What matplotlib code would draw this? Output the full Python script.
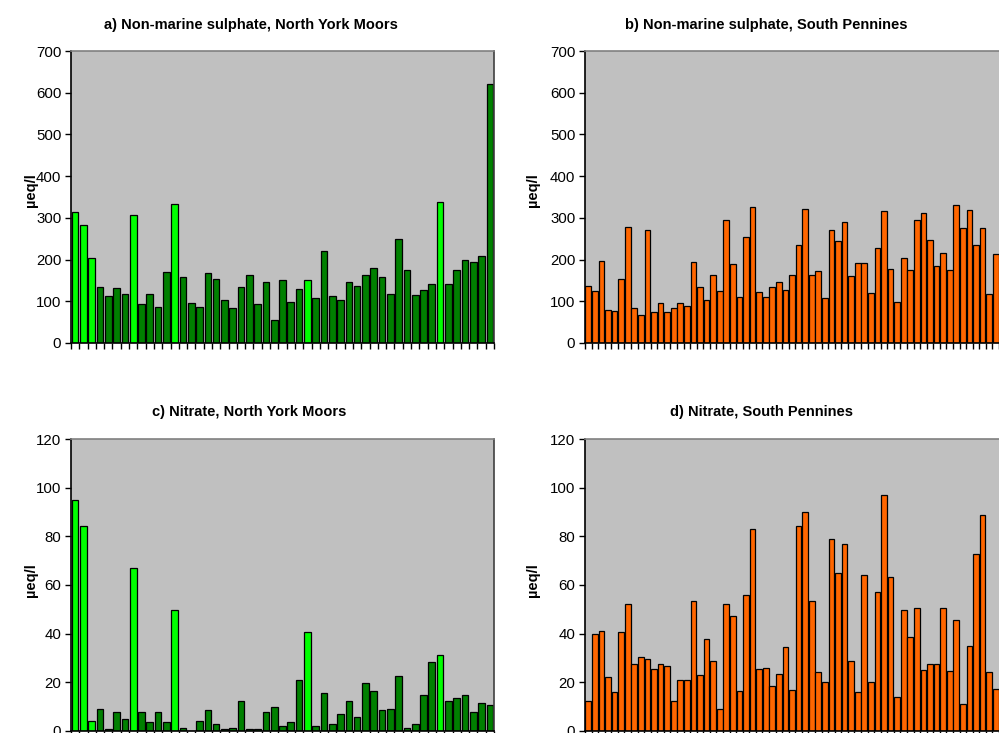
import numpy as np
import matplotlib
matplotlib.use('Agg')
import matplotlib.pyplot as plt

plt.rcParams['font.family'] = ['Liberation Sans', 'DejaVu Sans']

# sites with the bright green bars (North York Moors)
HIGHLIGHT = [0, 1, 2, 7, 12, 28, 44]

nym_sulphate = [315, 284, 203, 135, 113, 132, 118, 306, 94, 118, 87, 171, 334,
                159, 97, 87, 168, 153, 102, 84, 134, 162, 94, 147, 54, 150, 99,
                129, 150, 109, 221, 113, 103, 147, 136, 164, 180, 159, 118, 250,
                176, 114, 126, 142, 338, 142, 174, 200, 193, 209, 622]

nym_nitrate = [94.8, 84.2, 4.1, 9.2, 0.7, 7.8, 4.8, 66.9, 7.8, 3.6, 7.8, 3.6,
               49.8, 1.4, 0.0, 4.3, 8.5, 2.9, 0.7, 1.4, 12.2, 0.7, 0.7, 7.8,
               9.9, 2.1, 3.6, 20.9, 40.6, 2.1, 15.8, 2.9, 7.1, 12.2, 5.6, 19.6,
               16.3, 8.5, 9.2, 22.8, 1.4, 2.9, 14.8, 28.4, 31.3, 12.2, 13.6,
               14.8, 7.8, 11.7, 10.6]

sp_sulphate = [137, 124, 197, 78, 76, 153, 279, 84, 68, 271, 74, 95, 74, 85,
               97, 88, 195, 135, 103, 162, 124, 296, 189, 111, 255, 325, 122,
               111, 134, 146, 128, 164, 235, 321, 162, 172, 109, 271, 245, 289,
               160, 191, 191, 120, 228, 316, 177, 99, 204, 175, 294, 312, 246,
               185, 216, 175, 331, 275, 320, 235, 275, 118, 214]

sp_nitrate = [12.2, 39.9, 41.2, 22.1, 16.2, 40.6, 52.1, 27.4, 30.5, 29.4, 25.4,
              27.6, 26.6, 12.5, 21.0, 21.0, 53.5, 22.9, 37.9, 28.7, 8.9, 52.1,
              47.2, 16.5, 55.8, 82.9, 25.4, 25.7, 18.4, 23.3, 34.4, 16.8, 84.2,
              89.8, 53.4, 24.4, 20.3, 78.7, 65.0, 77.0, 28.7, 16.2, 64.1, 20.3,
              57.2, 97.1, 63.4, 14.1, 49.9, 38.5, 50.5, 25.1, 27.7, 27.7, 50.5,
              24.8, 45.5, 11.0, 35.1, 72.7, 88.6, 24.4, 17.1]

titles = ['a) Non-marine sulphate, North York Moors',
          'b) Non-marine sulphate, South Pennines',
          'c) Nitrate, North York Moors',
          'd) Nitrate, South Pennines']

W, H = 999, 733
fig = plt.figure(figsize=(W / 100, H / 100), dpi=100)


def px_axes(left, top, right, bottom):
    return fig.add_axes([left / W, 1 - bottom / H, (right - left) / W, (bottom - top) / H])


def bar_panel(ax, values, colors, width, ymax, ystep, xmax):
    n = len(values)
    x = np.arange(n)
    ax.set_facecolor('#C0C0C0')
    ax.bar(x, values, width=width, color=colors, edgecolor='black', linewidth=0.9, zorder=2)
    ax.set_xlim(-0.5, xmax)
    ax.set_ylim(0, ymax)
    ax.set_yticks(np.arange(0, ymax + 1, ystep))
    ax.set_xticks(np.arange(n + 1) - 0.5)
    ax.set_xticklabels([])
    ax.tick_params(axis='both', direction='out', length=4, width=1, colors='black', labelsize=10.8)
    ax.tick_params(axis='y', pad=3)
    ax.spines['left'].set_color('black')
    ax.spines['bottom'].set_color('black')
    ax.spines['top'].set_color('#808080')
    ax.spines['right'].set_color('#404040')
    for s in ax.spines.values():
        s.set_linewidth(1.2)


nym_colors = ['#00FF00' if i in HIGHLIGHT else '#008000' for i in range(len(nym_sulphate))]

ax_a = px_axes(71, 51, 494, 343)
bar_panel(ax_a, nym_sulphate, nym_colors, 0.8, 700, 100, len(nym_sulphate) - 0.5)

ax_b = px_axes(585, 51, 999, 343)
bar_panel(ax_b, sp_sulphate, '#FF6600', 0.88, 700, 100, 62.3)
ax_b.spines['right'].set_visible(False)

ax_c = px_axes(71, 439, 494, 731)
bar_panel(ax_c, nym_nitrate, nym_colors, 0.8, 120, 20, len(nym_nitrate) - 0.5)

ax_d = px_axes(585, 439, 999, 731)
bar_panel(ax_d, sp_nitrate, '#FF6600', 0.88, 120, 20, 62.3)
ax_d.spines['right'].set_visible(False)

# titles and unit labels placed like the original sheet
title_pos = [(251, 25), (766, 25), (249, 412), (761, 412)]
for t, (tx, ty) in zip(titles, title_pos):
    fig.text(tx / W, 1 - ty / H, t, ha='center', va='center', fontsize=10.5, fontweight='bold')

for lx, ly in [(31, 190), (533, 190), (31, 580), (533, 580)]:
    fig.text(lx / W, 1 - ly / H, 'µeq/l', rotation=90, ha='center', va='center',
             fontsize=10.5, fontweight='bold')

fig.savefig('out.png', dpi=100)
